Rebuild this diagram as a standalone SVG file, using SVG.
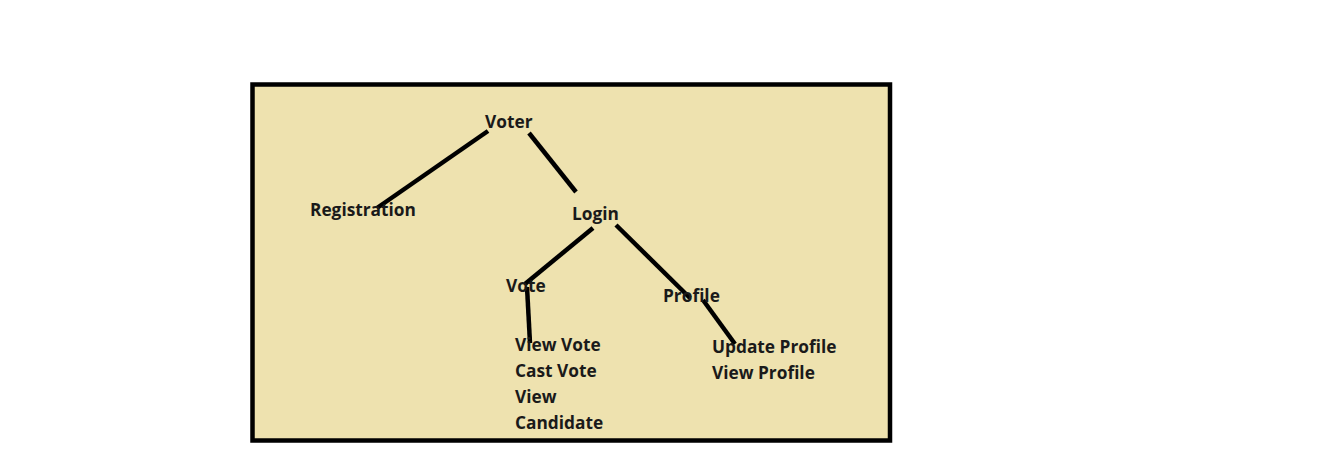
<svg xmlns="http://www.w3.org/2000/svg" width="1319" height="460" viewBox="0 0 1319 460">
<style>
.t{font-family:"Open Sans","Liberation Sans",sans-serif;font-weight:bold;font-size:17.3px;fill:#1a1a1a}
.c line{stroke:#000;stroke-width:4.5;stroke-linecap:butt}
</style>
<rect width="1319" height="460" fill="#fff"/>
<rect id="frame" x="252.5" y="84.5" width="637.5" height="356" fill="#EEE2AF" stroke="#000" stroke-width="4.5"/>
<g id="connectors" class="c">
<line x1="488" y1="131" x2="377" y2="208"/>
<line x1="529" y1="133" x2="576" y2="192"/>
<line x1="593" y1="228" x2="525" y2="284"/>
<line x1="527" y1="287" x2="530" y2="343"/>
<line x1="616" y1="225" x2="690" y2="298"/>
<line x1="703" y1="300" x2="735" y2="344"/>
</g>
<g id="voter"><text class="t" x="485" y="128">Voter</text></g>
<g id="registration"><text class="t" x="310" y="216">Registration</text></g>
<g id="login"><text class="t" x="572" y="220">Login</text></g>
<g id="vote"><text class="t" x="506" y="292">Vote</text></g>
<g id="profile"><text class="t" x="663" y="302">Profile</text></g>
<g id="vote-items">
<text class="t" x="515" y="351">View Vote</text>
<text class="t" x="515" y="377">Cast Vote</text>
<text class="t" x="515" y="403">View</text>
<text class="t" x="515" y="429">Candidate</text>
</g>
<g id="profile-items">
<text class="t" x="712" y="353">Update Profile</text>
<text class="t" x="712" y="379">View Profile</text>
</g>
</svg>
